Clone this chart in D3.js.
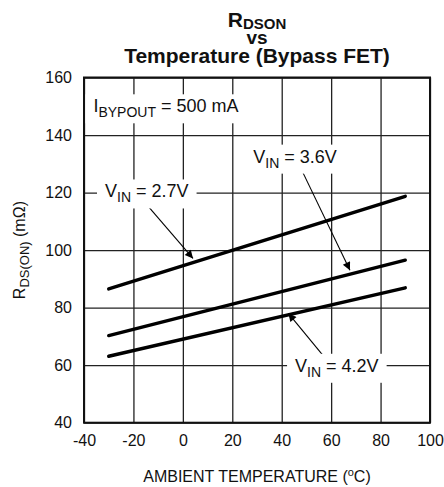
<!DOCTYPE html>
<html>
<head>
<meta charset="utf-8">
<script src="https://cdn.jsdelivr.net/npm/d3@7"></script>
<style>
  body { margin: 0; background: #fff; }
  svg { font-family: Arial, "Liberation Sans", sans-serif; }
</style>
</head>
<body>
<svg width="444" height="487"></svg>
<script>
// data
const temps = [-30, 90];
const rdsVin27 = [86.5, 118.7];
const rdsVin36 = [70.3, 96.5];
const rdsVin42 = [63.1, 86.9];
const seriesNames = ['2.7V', '3.6V', '4.2V'];
const xTicks = [-40, -20, 0, 20, 40, 60, 80, 100];
const yTicks = [40, 60, 80, 100, 120, 140, 160];

// annotation anchors (data units): label start, arrow start, arrow tip
const labelX = [-31.5, 28.5, 45.4];
const labelY = [118.3, 130.4, 57.7];
const arrowFromX = [-14.1, 48.1, 56.6];
const arrowFromY = [115.3, 127.8, 63.5];
const arrowToX = [4.1, 67.6, 42.7];
const arrowToY = [97.1, 93.0, 78.0];

const svg = d3.select('svg');
const width = +svg.attr('width');
const height = +svg.attr('height');
const margin = { top: 77.5, right: 14, bottom: 64.3, left: 84 };
const innerWidth = width - margin.left - margin.right;
const innerHeight = height - margin.top - margin.bottom;

const xScale = d3.scaleLinear().domain([-40, 100]).range([0, innerWidth]);
const yScale = d3.scaleLinear().domain([40, 160]).range([innerHeight, 0]);

const g = svg.append('g')
  .attr('transform', `translate(${margin.left},${margin.top})`);

// grid
const xAxisG = g.append('g')
  .attr('transform', `translate(0,${innerHeight})`)
  .call(d3.axisBottom(xScale).tickValues(xTicks).tickSize(-innerHeight).tickPadding(12).tickFormat(d => String(d)));
const yAxisG = g.append('g')
  .call(d3.axisLeft(yScale).tickValues(yTicks).tickSize(-innerWidth).tickPadding(12).tickFormat(d => String(d)));

[xAxisG, yAxisG].forEach(a => {
  a.select('.domain').remove();
  a.selectAll('line').attr('stroke', '#222').attr('stroke-width', 1.3);
  a.selectAll('text').attr('fill', '#111').style('font-size', '16px');
});

g.append('rect')
  .attr('width', innerWidth).attr('height', innerHeight)
  .attr('fill', 'none').attr('stroke', '#111').attr('stroke-width', 2);

// series
const series = [rdsVin27, rdsVin36, rdsVin42];
const line = d3.line().x((d, i) => xScale(temps[i])).y(d => yScale(d));
g.selectAll('.series').data(series).enter().append('path')
  .attr('class', 'series')
  .attr('d', d => line(d))
  .attr('fill', 'none').attr('stroke', '#000').attr('stroke-width', 3.4)
  .attr('stroke-linecap', 'round');

// arrows
svg.append('defs').append('marker')
  .attr('id', 'head').attr('viewBox', '0 0 10 10')
  .attr('refX', 10).attr('refY', 5)
  .attr('markerWidth', 11).attr('markerHeight', 8)
  .attr('markerUnits', 'userSpaceOnUse')
  .attr('orient', 'auto')
  .append('path').attr('d', 'M0,0L10,5L0,10Z').attr('fill', '#000');

seriesNames.forEach((name, i) => {
  g.append('line')
    .attr('x1', xScale(arrowFromX[i])).attr('y1', yScale(arrowFromY[i]))
    .attr('x2', xScale(arrowToX[i])).attr('y2', yScale(arrowToY[i]))
    .attr('stroke', '#000').attr('stroke-width', 1.1)
    .attr('marker-end', 'url(#head)');
});

// labels with white boxes
const addLabel = (x, y, main, sub, rest) => {
  const lg = g.append('g');
  const t = lg.append('text')
    .attr('x', x).attr('y', y)
    .attr('fill', '#111').style('font-size', '18px');
  t.append('tspan').text(main);
  t.append('tspan').attr('dy', 5).style('font-size', '14px').text(sub);
  t.append('tspan').attr('dy', -5).text(rest);
  const bb = t.node().getBBox();
  lg.insert('rect', 'text')
    .attr('x', bb.x - 8).attr('y', bb.y - 2)
    .attr('width', bb.width + 16).attr('height', bb.height + 5)
    .attr('fill', '#fff');
};

seriesNames.forEach((name, i) => {
  addLabel(xScale(labelX[i]), yScale(labelY[i]), 'V', 'IN', ` = ${name}`);
});
addLabel(xScale(-36.2), yScale(147.9), 'I', 'BYPOUT', ' = 500 mA');

// title
const cx = margin.left + innerWidth / 2;
const title = svg.append('text')
  .attr('text-anchor', 'middle')
  .attr('font-weight', 'bold').attr('fill', '#111')
  .style('font-size', '21px');
const t1 = title.append('tspan').attr('x', cx).attr('y', 26.7);
t1.append('tspan').text('R');
t1.append('tspan').attr('dy', 2.5).style('font-size', '15px').text('DSON');
title.append('tspan').attr('x', cx).attr('y', 44).style('font-size', '19px').text('vs');
title.append('tspan').attr('x', cx).attr('y', 63.3).text('Temperature (Bypass FET)');

// y axis label
const yl = svg.append('text')
  .attr('transform', `translate(25,${margin.top + innerHeight / 2}) rotate(-90)`)
  .attr('text-anchor', 'middle').attr('fill', '#111')
  .style('font-size', '16px');
yl.append('tspan').text('R');
yl.append('tspan').attr('dy', 4).style('font-size', '13px').text('DS(ON)');
yl.append('tspan').attr('dy', -4).text(' (mΩ)');

// x axis label
const xl = svg.append('text')
  .attr('x', cx).attr('y', 482)
  .attr('text-anchor', 'middle').attr('fill', '#111')
  .style('font-size', '16px');
xl.append('tspan').text('AMBIENT TEMPERATURE (');
xl.append('tspan').attr('dy', -6).style('font-size', '11px').text('o');
xl.append('tspan').attr('dy', 6).text('C)');
</script>
</body>
</html>
